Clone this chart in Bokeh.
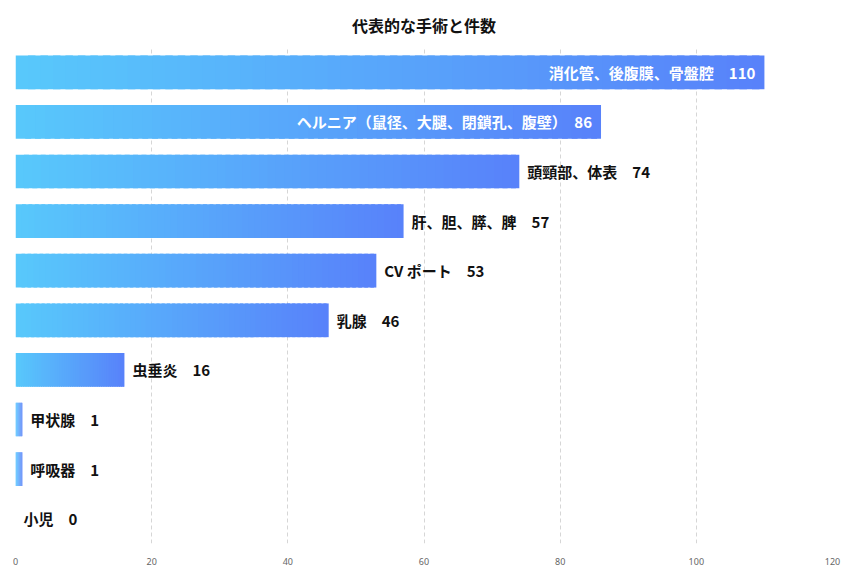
from bokeh.plotting import figure
from bokeh.models import FactorRange, Range1d, ColumnDataSource, FixedTicker
from bokeh.core.properties import value
from bokeh.embed import file_html
from bokeh.resources import INLINE

names = ["消化管、後腹膜、骨盤腔", "ヘルニア（鼠径、大腿、閉鎖孔、腹壁）", "頭頸部、体表",
         "肝、胆、膵、脾", "CV ポート", "乳腺", "虫垂炎", "甲状腺", "呼吸器", "小児"]
counts = [110, 86, 74, 57, 53, 46, 16, 1, 1, 0]
x_ticks = [0, 20, 40, 60, 80, 100, 120]
title = "代表的な手術と件数"

c0 = (0x58, 0xC8, 0xFB)
c1 = (0x58, 0x82, 0xFA)
N = 60

JP = "Noto Sans CJK JP"

p = figure(width=852, height=567, output_backend="svg", toolbar_location=None,
           y_range=FactorRange(factors=list(reversed(names))),
           x_range=Range1d(0, 120), title=title,
           min_border_left=15, min_border_right=20, min_border_top=47, min_border_bottom=23)
p.outline_line_color = None
p.background_fill_color = "white"
p.title.align = "center"
p.title.vertical_align = "top"
p.title.text_font = JP
p.title.text_font_size = "16px"
p.title.text_font_style = "bold"
p.title.text_color = "#111111"
p.title.standoff = 17

# gradient bars as thin slices
ys, lefts, rights, cols = [], [], [], []
for n, v in zip(names, counts):
    if v <= 0:
        continue
    for i in range(N):
        t = i / (N - 1)
        col = "#%02x%02x%02x" % tuple(int(round(a + (b - a) * t)) for a, b in zip(c0, c1))
        ys.append(n)
        lefts.append(v * i / N)
        rights.append(v * min(i + 1.6, N) / N)
        cols.append(col)
p.hbar(y="y", left="l", right="r", height=0.68, color="c", line_color=None,
       source=ColumnDataSource(dict(y=ys, l=lefts, r=rights, c=cols)))

# labels
inside = [v >= 80 for v in counts]
lab_in = dict(y=[n for n, f in zip(names, inside) if f],
              x=[v for v, f in zip(counts, inside) if f],
              t=[f"{n}\u3000{v}" for n, v, f in zip(names, counts, inside) if f])
lab_out = dict(y=[n for n, f in zip(names, inside) if not f],
               x=[v for v, f in zip(counts, inside) if not f],
               t=[f"{n}\u3000{v}" for n, v, f in zip(names, counts, inside) if not f])
p.text(x="x", y="y", text="t", source=ColumnDataSource(lab_in), x_offset=-9,
       text_align="right", text_baseline="middle", text_color="white",
       text_font=value(JP), text_font_size="15px", text_font_style="bold")
p.text(x="x", y="y", text="t", source=ColumnDataSource(lab_out), x_offset=8,
       text_align="left", text_baseline="middle", text_color="#111111",
       text_font=value(JP), text_font_size="15px", text_font_style="bold")

p.xaxis.ticker = FixedTicker(ticks=x_ticks)
p.xaxis.axis_line_color = None
p.xaxis.major_tick_line_color = None
p.xaxis.minor_tick_line_color = None
p.xaxis.major_label_text_font_size = "9px"
p.xaxis.major_label_text_color = "#666666"
p.xaxis.major_label_text_font = "Noto Sans"
p.xaxis.major_label_standoff = 8
p.yaxis.visible = False
p.xgrid.grid_line_color = "#d6d6d6"
p.xgrid.grid_line_dash = "4 3"
p.ygrid.grid_line_color = None

open("out.html", "w").write(file_html(p, INLINE))
